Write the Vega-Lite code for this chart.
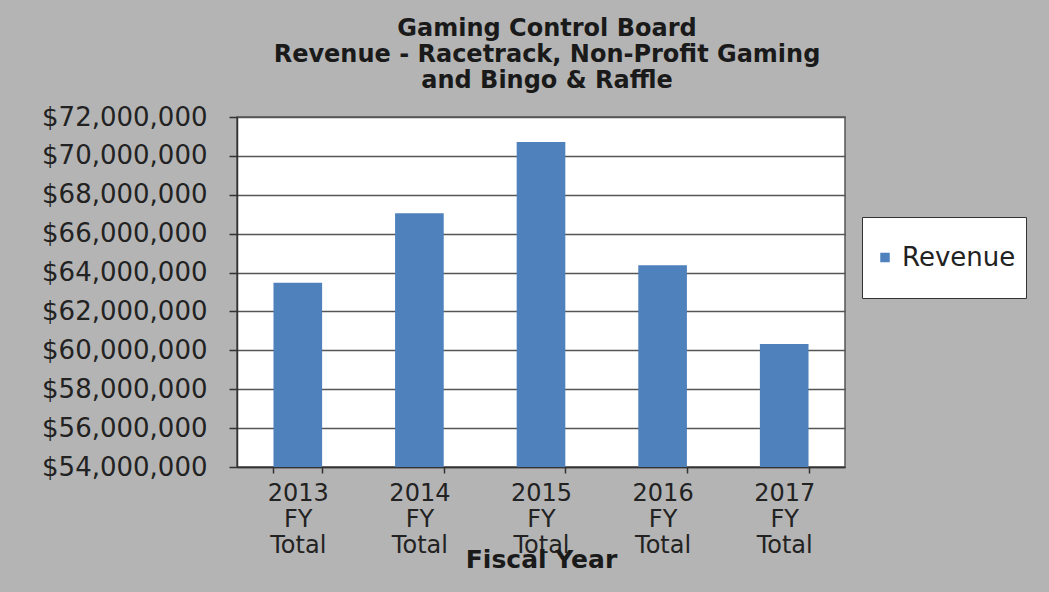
{
  "$schema": "https://vega.github.io/schema/vega-lite/v6.json",
  "autosize": {"type": "none"},
  "width": 608,
  "height": 350,
  "padding": {"left": 237, "top": 117, "right": 204, "bottom": 125},
  "background": "#b4b4b4",
  "title": {
    "text": ["Gaming Control Board", "Revenue - Racetrack, Non-Profit Gaming", "and Bingo & Raffle"],
    "font": "DejaVu Sans",
    "fontSize": 24,
    "fontWeight": "bold",
    "color": "#1a1a1a",
    "lineHeight": 26,
    "anchor": "middle",
    "offset": 11,
    "dx": 6
  },
  "data": {
    "values": [
      {"year": "2013 FY Total", "series": "Revenue", "revenue": 63480000},
      {"year": "2014 FY Total", "series": "Revenue", "revenue": 67050000},
      {"year": "2015 FY Total", "series": "Revenue", "revenue": 70710000},
      {"year": "2016 FY Total", "series": "Revenue", "revenue": 64380000},
      {"year": "2017 FY Total", "series": "Revenue", "revenue": 60330000}
    ]
  },
  "mark": {"type": "bar", "clip": true},
  "encoding": {
    "x": {
      "field": "year",
      "type": "nominal",
      "sort": null,
      "scale": {"paddingInner": 0.6, "paddingOuter": 0.3},
      "axis": {
        "title": "Fiscal Year",
        "titleFont": "DejaVu Sans",
        "titleFontSize": 25,
        "titleFontWeight": "bold",
        "titleColor": "#1a1a1a",
        "titleY": 92,
        "titleBaseline": "middle",
        "labelExpr": "split(datum.label, ' ')",
        "labelAngle": 0,
        "labelFont": "DejaVu Sans",
        "labelFontSize": 24,
        "labelLineHeight": 26,
        "labelColor": "#222222",
        "labelPadding": 8,
        "tickBand": "extent",
        "tickSize": 6,
        "tickColor": "#333333",
        "tickWidth": 1.5,
        "domainColor": "#333333",
        "domainWidth": 1.5,
        "grid": false
      }
    },
    "y": {
      "field": "revenue",
      "type": "quantitative",
      "scale": {"domain": [54000000, 72000000], "zero": false, "nice": false},
      "axis": {
        "title": null,
        "values": [54000000, 56000000, 58000000, 60000000, 62000000, 64000000, 66000000, 68000000, 70000000, 72000000],
        "format": "$,.0f",
        "labelFont": "DejaVu Sans",
        "labelFontSize": 26,
        "labelColor": "#222222",
        "labelPadding": 22,
        "tickSize": 8,
        "tickColor": "#333333",
        "tickWidth": 1.5,
        "domainColor": "#333333",
        "domainWidth": 1.5,
        "grid": true,
        "gridColor": "#555555",
        "gridWidth": 1.5
      }
    },
    "color": {
      "field": "series",
      "type": "nominal",
      "scale": {"range": ["#4f81bd"]},
      "legend": {
        "title": null,
        "orient": "none",
        "legendX": 625,
        "legendY": 100,
        "fillColor": "#ffffff",
        "strokeColor": "#333333",
        "padding": 10,
        "clipHeight": 61,
        "symbolType": "square",
        "symbolSize": 90,
        "symbolStrokeWidth": 0,
        "labelFont": "DejaVu Sans",
        "labelFontSize": 26,
        "labelColor": "#222222",
        "labelOffset": 4
      }
    }
  },
  "config": {
    "view": {"fill": "#ffffff", "stroke": "#555555", "strokeWidth": 1.5}
  }
}
